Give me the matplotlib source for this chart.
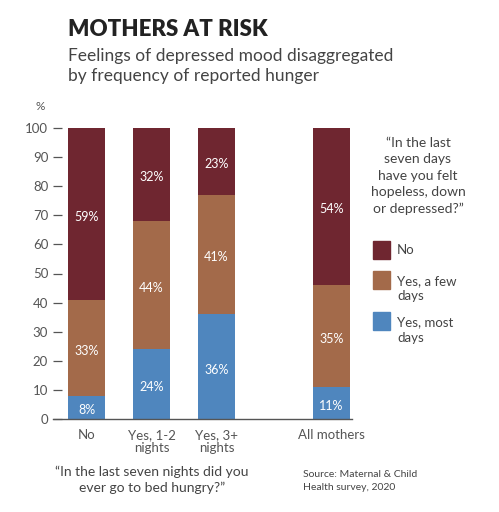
import matplotlib

matplotlib.use("Agg")
import matplotlib.pyplot as plt
from matplotlib.patches import Rectangle

plt.rcParams["font.family"] = ["Lato", "DejaVu Sans"]

categories = ["No", "Yes, 1-2\nnights", "Yes, 3+\nnights", "All mothers"]
positions = [0, 1, 2, 3.77]
yes_most = [8, 24, 36, 11]
yes_few = [33, 44, 41, 35]
no_vals = [59, 32, 23, 54]
series_names = ["No", "Yes, a few\ndays", "Yes, most\ndays"]
yticks = list(range(0, 101, 10))

C_NO = "#6F2630"
C_FEW = "#A36A4A"
C_MOST = "#4F86BE"
GREY = "#555555"

fig = plt.figure(figsize=(4.99, 5.12), dpi=100)
ax = fig.add_axes([53 / 499, 93 / 512, 299 / 499, 291 / 512])

width = 0.57
bottoms = [0] * len(positions)
for vals, color in [(yes_most, C_MOST), (yes_few, C_FEW), (no_vals, C_NO)]:
    ax.bar(positions, vals, width=width, bottom=bottoms, color=color, linewidth=0)
    for x, b, v in zip(positions, bottoms, vals):
        ax.text(x, b + v / 2 - 1, f"{v}%", ha="center", va="center",
                color="white", fontsize=9)
    bottoms = [b + v for b, v in zip(bottoms, vals)]

ax.set_xlim(-0.515, 4.085)
ax.set_ylim(0, 100)
for side in ["top", "right", "left"]:
    ax.spines[side].set_visible(False)
ax.spines["bottom"].set_color(GREY)
ax.spines["bottom"].set_linewidth(1)
ax.set_yticks(yticks)
ax.tick_params(axis="y", direction="in", length=6.5, width=0.9, color=GREY,
               labelcolor=GREY, labelsize=9.5, pad=3.5)
ax.set_xticks(positions)
ax.set_xticklabels(categories, fontsize=9.5, color=GREY, linespacing=1.15)
ax.tick_params(axis="x", length=0, pad=7)

# titles
fig.text(68 / 499, 1 - 30 / 512, "MOTHERS AT RISK", fontsize=16, fontweight="heavy",
         color="#222222", va="center")
fig.text(68 / 499, 1 - 66 / 512, "Feelings of depressed mood disaggregated\nby frequency of reported hunger",
         fontsize=12.5, color="#444444", va="center", linespacing=1.3)
fig.text(40 / 499, 1 - 107 / 512, "%", fontsize=8.5, color=GREY, ha="center", va="center")

# legend block
fig.text(418 / 499, 1 - 176 / 512,
         "\u201cIn the last\nseven days\nhave you felt\nhopeless, down\nor depressed?\u201d",
         fontsize=10, color="#444444", ha="center", va="center", linespacing=1.45)
patch_tops = [241, 271, 312]
text_y = [250, 289, 330]
for top, ty, name, color in zip(patch_tops, text_y, series_names, [C_NO, C_FEW, C_MOST]):
    fig.patches.append(Rectangle((373 / 499, 1 - (top + 18) / 512), 17 / 499, 18 / 512,
                                 transform=fig.transFigure, color=color))
    fig.text(397 / 499, 1 - ty / 512, name, fontsize=9.5, color="#444444",
             va="center", linespacing=1.3)

fig.text(152 / 499, 1 - 480 / 512,
         "\u201cIn the last seven nights did you\never go to bed hungry?\u201d",
         fontsize=10, color="#444444", ha="center", va="center", linespacing=1.35)
fig.text(303 / 499, 1 - 481 / 512, "Source: Maternal & Child\nHealth survey, 2020",
         fontsize=7.5, color="#444444", ha="left", va="center", linespacing=1.5)

fig.savefig("out.png", dpi=100)
